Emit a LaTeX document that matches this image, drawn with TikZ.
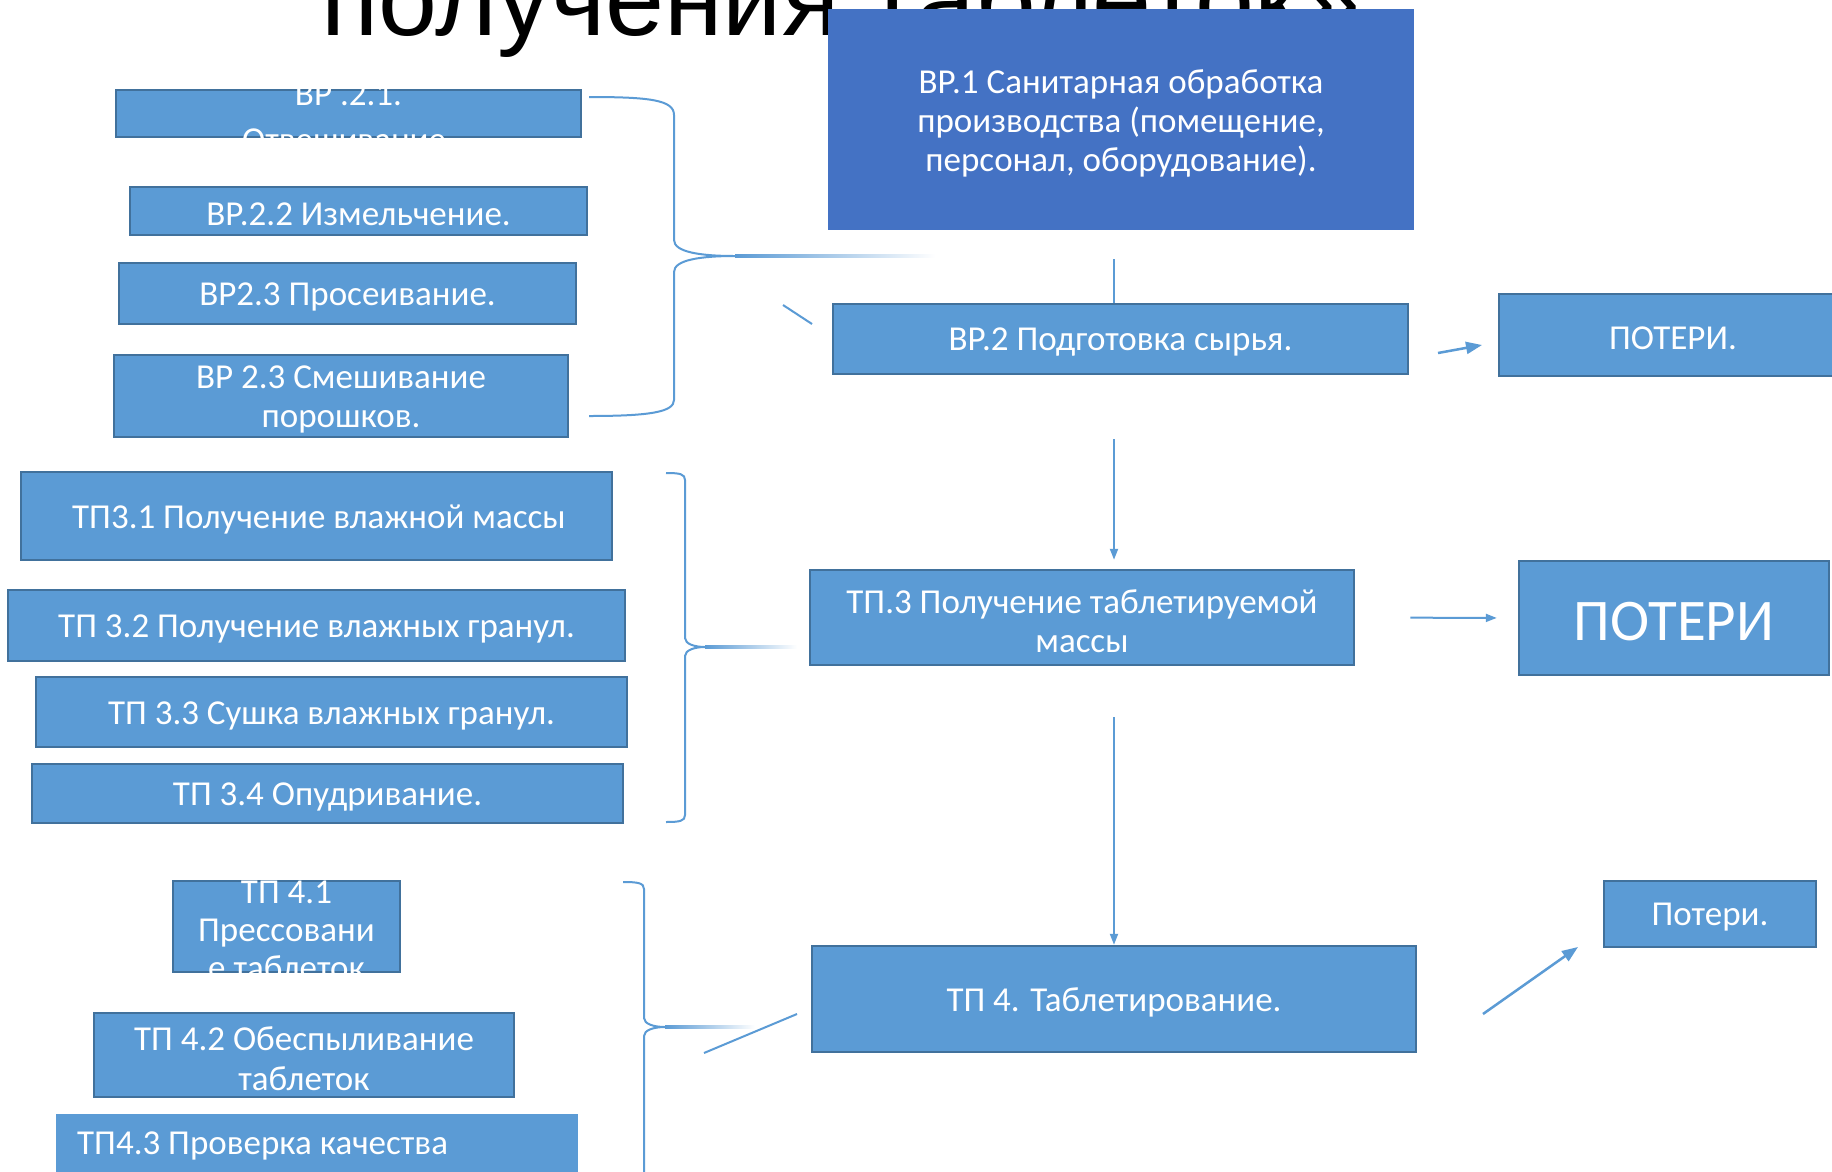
\documentclass[tikz,border=0pt]{standalone}
\usepackage{fontspec}
\setmainfont{Carlito}
\newfontfamily\ttlfont{Liberation Sans}
\usetikzlibrary{arrows.meta,calc}
\definecolor{boxfill}{HTML}{5B9BD5}
\definecolor{boxdark}{HTML}{4472C4}
\definecolor{boxline}{HTML}{41719C}
\definecolor{conn}{HTML}{5B9BD5}
\begin{document}
\begin{tikzpicture}[x=1pt,y=-1pt,
  box/.style={draw=boxline, line width=2.5pt, fill=boxfill, inner sep=0pt},
  plainbox/.style={fill=boxfill, inner sep=0pt},
  darkbox/.style={fill=boxdark, inner sep=0pt},
  txt/.style={text=white, font=\fontsize{35}{39}\selectfont, align=center, inner sep=0pt, yshift=-3.5pt},
  conline/.style={draw=conn, line width=2pt},
  arr/.style={conline, -{Triangle[length=11pt,width=8pt]}},
  bigarr/.style={conline, line width=2.5pt, -{Triangle[length=16pt,width=12pt]}}]
\clip (0,0) rectangle (1832,1171);
\fill[white] (0,0) rectangle (1832,1171);

% title (partly hidden)
\node[anchor=base west, inner sep=0pt, font=\ttlfont\fontsize{106}{120}\selectfont] (title) at (321,35) {получения таблеток»};

% ---- main column ----
\node[darkbox, minimum width=586pt, minimum height=221pt] (bp1) at (1121,119.5) {};
\node[txt] at (bp1.center) {ВР.1 Санитарная обработка\\производства (помещение,\\персонал, оборудование).};

\node[box, minimum width=575pt, minimum height=70pt] (bp2) at (1120.5,339) {};
\node[txt] at (bp2.center) {ВР.2 Подготовка сырья.};

\node[box, minimum width=348pt, minimum height=82pt] (pot1) at (1673,335) {};
\node[txt] at (pot1.center) {ПОТЕРИ.};

\node[box, minimum width=544pt, minimum height=95pt] (tp3) at (1082,617.5) {};
\node[txt] at (tp3.center) {ТП.3 Получение таблетируемой\\массы};

\node[box, minimum width=310pt, minimum height=114pt] (pot2) at (1674,618) {};
\node[txt, font=\fontsize{59}{66}\selectfont] at (pot2.center) {ПОТЕРИ};

\node[box, minimum width=604pt, minimum height=106pt] (tp4) at (1114,999) {};
\node[txt] at (tp4.center) {ТП 4. Таблетирование.};

\node[box, minimum width=212pt, minimum height=66pt] (pot3) at (1710,914) {};
\node[txt] at (pot3.center) {Потери.};

% ---- ВР.2 sub-steps ----
\node[box, minimum width=465pt, minimum height=47pt] (bp21) at (348.5,113.5) {};
\node[txt, font=\fontsize{35}{46}\selectfont] at (bp21.center) {ВР .2.1.\\Отвешивание.};
\node[box, minimum width=457pt, minimum height=48pt] (bp22) at (358.5,211) {};
\node[txt] at (bp22.center) {ВР.2.2 Измельчение.};
\node[box, minimum width=457pt, minimum height=61pt] (bp23) at (347.5,293.5) {};
\node[txt] at (bp23.center) {ВР2.3 Просеивание.};
\node[box, minimum width=454pt, minimum height=82pt] (bp24) at (341,396) {};
\node[txt] at (bp24.center) {ВР 2.3 Смешивание\\порошков.};

% ---- ТП.3 sub-steps ----
\node[box, minimum width=591pt, minimum height=88pt] (tp31) at (316.5,516) {};
\begin{scope}
\clip (21,472) rectangle (562,560);
\node[txt, anchor=west] at (72,516) {ТП3.1 Получение влажной массы};
\end{scope}
\node[box, minimum width=617pt, minimum height=71pt] (tp32) at (316.5,625.5) {};
\node[txt] at (tp32.center) {ТП 3.2 Получение влажных гранул.};
\node[box, minimum width=591pt, minimum height=70pt] (tp33) at (331.5,712) {};
\node[txt] at (tp33.center) {ТП 3.3 Сушка влажных гранул.};
\node[box, minimum width=591pt, minimum height=59pt] (tp34) at (327.5,793.5) {};
\node[txt] at (tp34.center) {ТП 3.4 Опудривание.};

% ---- ТП4 sub-steps ----
\node[box, minimum width=227pt, minimum height=91pt] (tp41) at (286.5,926.5) {};
\node[txt, font=\fontsize{35}{38}\selectfont] at (tp41.center) {ТП 4.1\\Прессовани\\е таблеток};
\node[box, minimum width=420pt, minimum height=84pt] (tp42) at (304,1055) {};
\node[txt, font=\fontsize{35}{40}\selectfont] at (tp42.center) {ТП 4.2 Обеспыливание\\таблеток};
\node[plainbox, minimum width=522pt, minimum height=90pt, anchor=north west] (tp43) at (56,1114) {};
\node[txt, align=left, anchor=north west, font=\fontsize{35}{44}\selectfont] at (77,1128) {ТП4.3 Проверка качества\\таблеток.};

% ---- braces ----
\coordinate (b1tip) at (735,256);
\draw[conline] (589,97) .. controls (650,97) and (674,100) .. (674,115) -- (674,240)
  .. controls (674,252) and (700,256) .. (b1tip)
  .. controls (700,256) and (674,260) .. (674,272) -- (674,400)
  .. controls (674,412) and (650,416) .. (589,416);
\shade[left color=conn, right color=white] ($(b1tip)+(0,-1.2)$) rectangle ($(b1tip)+(200,1.2)$);

\coordinate (b2tip) at (705,647);
\draw[conline] (666,473) .. controls (680,473) and (685,474) .. (685,480) -- (685,638)
  .. controls (685,644) and (695,647) .. (b2tip)
  .. controls (695,647) and (685,650) .. (685,656) -- (685,815)
  .. controls (685,821) and (680,822) .. (666,822);
\shade[left color=conn, right color=white] ($(b2tip)+(0,-1.2)$) rectangle ($(b2tip)+(92,1.2)$);

\coordinate (b3tip) at (665,1027);
\draw[conline] (623,882) .. controls (638,882) and (644,883) .. (644,889) -- (644,1018)
  .. controls (644,1024) and (654,1027) .. (b3tip)
  .. controls (654,1027) and (644,1030) .. (644,1036) -- (644,1180);
\shade[left color=conn, right color=white] ($(b3tip)+(0,-1.2)$) rectangle ($(b3tip)+(90,1.2)$);

% ---- connectors ----
\draw[conline, shorten <=29pt] (tp4.north |- bp1.south) -- (tp4.north |- bp2.north);
\draw[arr, shorten <=64pt, shorten >=9pt] (tp4.north |- bp2.south) -- (tp4.north |- tp3.north);
\draw[arr, shorten <=51pt] (tp4.north |- tp3.south) -- (tp4.north);
\draw[arr, shorten <=55pt, shorten >=21pt] (tp3.east) -- (pot2.west);

\coordinate (s1a) at (783,305);
\coordinate (s1b) at (812,324);
\draw[conline] (s1a) -- (s1b);

\coordinate (p1a) at (1438,353);
\coordinate (p1b) at (1482,345);
\draw[bigarr] (p1a) -- (p1b);

\coordinate (p3a) at (1483,1014);
\coordinate (p3b) at (1578,947);
\draw[bigarr] (p3a) -- (p3b);

\coordinate (s4a) at (704,1053);
\coordinate (s4b) at (797,1014);
\draw[conline] (s4a) -- (s4b);
\end{tikzpicture}
\end{document}
